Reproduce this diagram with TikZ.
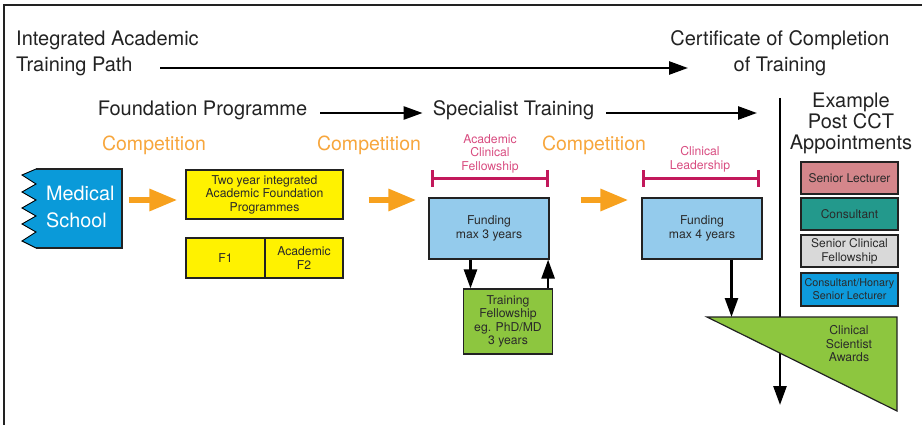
\documentclass[tikz,border=0pt]{standalone}
\usepackage{fontspec}
\setmainfont{TeX Gyre Heros}
\usetikzlibrary{arrows.meta}
\definecolor{txt}{HTML}{222222}
\definecolor{boxtxt}{HTML}{2A2A2A}
\definecolor{boxline}{HTML}{222222}
\definecolor{orangetxt}{HTML}{F7A63C}
\definecolor{orangearr}{HTML}{F7A11E}
\definecolor{magtxt}{HTML}{D84C80}
\definecolor{magline}{HTML}{C2185B}
\definecolor{msblue}{HTML}{0A9AD9}
\definecolor{yellowc}{HTML}{FFF200}
\definecolor{lblue}{HTML}{94CBEC}
\definecolor{greenc}{HTML}{8DC63F}
\definecolor{pinkc}{HTML}{D4868B}
\definecolor{tealc}{HTML}{23998C}
\definecolor{grayc}{HTML}{D9D9D9}
\definecolor{bluec}{HTML}{0E9BDC}
\begin{document}
\begin{tikzpicture}[x=1pt,y=-1pt,
  hdr/.style={font=\fontsize{20}{26}\selectfont, text=txt, inner sep=0pt, align=center},
  comp/.style={font=\fontsize{19.5}{24}\selectfont, text=orangetxt, inner sep=0pt},
  acf/.style={font=\fontsize{12.2}{13.5}\selectfont, text=magtxt, align=center, inner sep=0pt},
  box/.style={draw=boxline, line width=1.2pt, inner sep=0pt, align=center, font=\fontsize{12.2}{13.5}\selectfont, text=boxtxt},
  rbox/.style={box, minimum width=97pt, font=\fontsize{12}{14}\selectfont},
  barrow/.style={draw=black, line width=2.6pt, -{Triangle[length=19pt,width=13pt]}},
  oarrow/.style={draw=orangearr, line width=6pt, -{Triangle[length=28pt,width=21pt]}},
  mbar/.style={draw=magline, line width=3pt, {Bar[width=17pt]}-{Bar[width=17pt]}}
]
\useasboundingbox (0,0) rectangle (922,425);
% frame
\draw[line width=2pt, draw=txt] (4,425) -- (4,5) -- (922,5);

% headers
\node[hdr, anchor=west, align=left] (ia) at (16,53) {Integrated Academic\\Training Path};
\node[hdr] (cct) at (780,53) {Certificate of Completion\\of Training};
\node[hdr] (fp) at (202.5,110) {Foundation Programme};
\node[hdr] (st) at (513.5,110) {Specialist Training};
\node[hdr, font=\fontsize{20}{21}\selectfont] (ex) at (851,123) {Example\\Post CCT\\Appointments};
\node[comp] (c1) at (154,145) {Competition};
\node[comp] (c2) at (369,145) {Competition};
\node[comp] (c3) at (594,145) {Competition};
\node[acf] (acf) at (490,153.7) {Academic\\Clinical\\Fellowship};
\node[acf] (cl) at (700,159.5) {Clinical\\Leadership};

% top arrows
\coordinate (a1s) at (160,68);
\coordinate (a1e) at (688,68);
\draw[barrow] (a1s) -- (a1e);
\coordinate (vtop) at (780,98);
\coordinate (vbot) at (780,405);
\draw[barrow, shorten <=13pt, shorten >=10pt] ([yshift=-3pt]fp.east) -- ([yshift=-3pt]st.west);
\draw[barrow, shorten <=12pt, shorten >=23pt] ([yshift=-3pt]st.east) -- ([yshift=-3pt]st.east -| vtop);
\draw[barrow] (vtop) -- (vbot);

% medical school
\fill[msblue] (122,169) -- (36,169) -- (22,175) -- (36,184) -- (22,192) -- (36,200) -- (22,208) -- (36,216) -- (22,224) -- (36,232) -- (22,241) -- (36,248) -- (122,248) -- cycle;
\draw[boxline, line width=1.2pt] (36,169) -- (122,169) -- (122,248) -- (36,248);
\draw[black, line width=0.9pt] (36,169) -- (22,175) -- (36,184) -- (22,192) -- (36,200) -- (22,208) -- (36,216) -- (22,224) -- (36,232) -- (22,241) -- (36,248);
\node[hdr, anchor=west, align=left, text=white, font=\fontsize{19.8}{27}\selectfont] (mst) at (46,206.5) {Medical\\School};

% boxes
\node[box, fill=yellowc, minimum width=157pt, minimum height=49pt] (tya) at (264.5,194.5) {Two year integrated\\Academic Foundation\\Programmes};
\node[box, fill=yellowc, minimum width=79pt, minimum height=40pt] (f1) at (225.5,258) {F1};
\node[box, fill=yellowc, minimum width=78pt, minimum height=40pt] (af2) at (304,258) {Academic\\F2};
\node[box, fill=lblue, minimum width=120pt, minimum height=61pt] (fund1) at (489,228.5) {Funding\\max 3 years};
\node[box, fill=greenc, minimum width=89pt, minimum height=65pt] (tf) at (508,321.5) {Training\\Fellowship\\eg. PhD/MD\\3 years};
\node[box, fill=lblue, minimum width=120pt, minimum height=61pt] (fund2) at (702,228.5) {Funding\\max 4 years};

% right boxes
\node[rbox, fill=pinkc, minimum height=32pt] (sl) at (849.5,178) {Senior Lecturer};
\node[rbox, fill=tealc, minimum height=32pt] (cons) at (849.5,214) {Consultant};
\node[rbox, fill=grayc, minimum height=32pt] (scf) at (849.5,251) {Senior Clinical\\Fellowship};
\node[rbox, fill=bluec, minimum height=33pt, font=\fontsize{10.8}{13}\selectfont] (chsl) at (849.5,289.5) {Consultant/Honary\\Senior Lecturer};

% triangle
\coordinate (tritop) at (707,317);
\draw[boxline, line width=1.2pt, fill=greenc] (tritop) -- (897,317) -- (897,411) -- cycle;
\node[box, draw=none] (csa) at (849,344) {Clinical\\Scientist\\Awards};

% orange arrows
\draw[oarrow, shorten <=14pt, shorten >=8pt] ([yshift=6.5pt]mst.east) -- ([yshift=6.5pt]mst.east -| tya.west);
\draw[oarrow, shorten <=25pt, shorten >=12pt] ([yshift=-5.5pt]tya.east) -- ([yshift=-5.5pt]tya.east -| fund1.west);
\draw[oarrow, shorten <=31pt, shorten >=13pt] ([yshift=28.5pt]fund1.east) -- ([yshift=28.5pt]fund1.east -| fund2.west);

% magenta bars
\draw[mbar] ([xshift=3pt,yshift=19pt]fund1.north west) -- ([xshift=-1pt,yshift=19pt]fund1.north east);
\draw[mbar] ([xshift=1pt,yshift=19pt]fund2.north west) -- ([xshift=-3pt,yshift=19pt]fund2.north east);

% black connectors
\draw[barrow] ([xshift=-18.5pt]fund1.south) -- ([xshift=-18.5pt]fund1.south |- tf.north);
\draw[barrow] ([xshift=-5pt]tf.north east) -- ([xshift=-5pt]tf.north east |- fund1.south);
\draw[barrow] ([xshift=29.5pt]fund2.south) -- ([xshift=29.5pt]fund2.south |- tritop);
\end{tikzpicture}
\end{document}
